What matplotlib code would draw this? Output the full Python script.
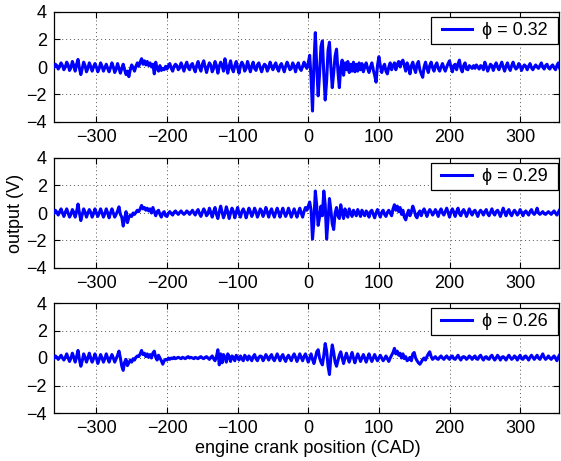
import numpy as np
import matplotlib
matplotlib.use("Agg")
import matplotlib.pyplot as plt
from matplotlib.patches import Rectangle

plt.rcParams['font.family'] = ['Liberation Sans', 'DejaVu Sans']

# crank angle sampling grid (CAD)
cad_start, cad_stop, cad_step = -360, 360, 2
cad = np.arange(cad_start, cad_stop + cad_step, cad_step)

phi_labels = ["ϕ = 0.32", "ϕ = 0.29", "ϕ = 0.26"]
x_ticks = [-300, -200, -100, 0, 100, 200, 300]
y_ticks = [-4, -2, 0, 2, 4]

out_032 = [
    # -360 .. -322
    0.0, 0.2, 0.1, -0.15, 0.05, 0.3, 0.1, -0.2, 0.0, 0.35, 0.15, -0.25, -0.05, 0.4, 0.1, -0.3, 0.2, 0.55, -0.1, -0.55,
    # -320 .. -282
    -0.1, 0.35, 0.1, -0.35, -0.1, 0.3, 0.05, -0.3, 0.0, 0.25, 0.0, -0.35, -0.1, 0.3, 0.05, -0.3, -0.05, 0.2, -0.1, -0.35,
    # -280 .. -242
    -0.05, 0.3, 0.0, -0.4, -0.15, 0.25, -0.1, -0.45, -0.1, 0.2, -0.2, -0.55, -0.3, -0.7, -0.2, 0.15, -0.05, -0.3, 0.05, 0.3,
    # -240 .. -202
    0.05, 0.35, 0.6, 0.2, 0.45, 0.15, 0.4, 0.1, 0.3, 0.0, 0.2, -0.5, 0.35, -0.1, -0.3, 0.1, -0.25, -0.1, -0.2, 0.05,
    # -200 .. -162
    -0.15, 0.1, 0.25, -0.1, -0.3, 0.05, 0.2, 0.1, -0.2, -0.05, 0.3, 0.0, -0.3, 0.1, 0.35, -0.05, -0.2, 0.15, 0.25, -0.1,
    # -160 .. -122
    -0.35, 0.1, 0.4, -0.05, -0.3, 0.2, 0.45, 0.0, -0.4, 0.0, 0.3, 0.15, -0.35, -0.1, 0.4, 0.1, -0.45, 0.05, 0.35, 0.1,
    # -120 .. -82
    -0.3, 0.6, 0.1, -0.45, 0.05, 0.45, -0.1, -0.35, 0.1, 0.4, -0.05, -0.45, 0.1, 0.35, 0.15, -0.3, -0.1, 0.4, 0.05, -0.35,
    # -80 .. -42
    0.05, 0.35, -0.1, -0.25, 0.15, 0.3, -0.05, -0.35, 0.0, 0.2, 0.1, -0.3, -0.05, 0.35, 0.05, -0.2, 0.1, 0.3, -0.1, -0.3,
    # -40 .. -2
    0.1, 0.25, -0.05, -0.35, 0.05, 0.35, 0.1, -0.2, -0.1, 0.3, 0.05, -0.35, 0.1, 0.3, -0.1, -0.25, 0.05, 0.35, 0.1, -0.1,
    # 0 .. 38
    0.3, 0.85, -0.8, -3.2, 0.2, 2.5, 0.0, -2.1, -0.5, 1.5, 1.9, -0.5, -2.4, -1.0, 1.2, 1.8, 0.0, -1.5, -0.4, 0.8,
    # 40 .. 78
    1.3, -0.3, -1.5, 0.0, 0.5, -0.6, 0.3, -0.2, 0.4, -0.4, 0.2, -0.3, 0.35, -0.35, 0.2, -0.3, 0.3, -0.2, 0.25, -0.35,
    # 80 .. 118
    0.0, 0.3, -0.1, -0.4, 0.0, 0.3, -0.2, -0.6, -1.1, 0.1, 0.75, 0.1, -0.4, 0.0, 0.2, -0.3, -0.5, 0.0, 0.3, -0.2,
    # 120 .. 158
    0.1, 0.3, -0.2, 0.2, 0.4, 0.0, 0.35, 0.5, 0.1, -0.3, 0.3, 0.0, -0.5, 0.1, 0.35, -0.1, -0.4, 0.2, 0.4, -0.2,
    # 160 .. 198
    -0.5, -0.75, 0.0, 0.35, -0.1, -0.4, 0.1, 0.35, -0.05, -0.3, 0.1, 0.3, -0.1, -0.3, 0.0, 0.25, -0.05, -0.3, 0.0, 0.25,
    # 200 .. 238
    0.45, 0.0, -0.35, 0.1, 0.2, -0.2, 0.2, 0.5, -0.1, -0.35, 0.1, 0.3, -0.15, -0.2, 0.1, 0.0, -0.1, 0.1, -0.1, 0.15,
    # 240 .. 278
    0.0, -0.15, 0.1, 0.05, -0.2, 0.35, 0.05, -0.3, -0.05, 0.2, 0.1, -0.25, 0.05, 0.3, 0.0, -0.2, 0.1, 0.35, 0.0, -0.3,
    # 280 .. 318
    0.05, 0.3, -0.05, -0.25, 0.1, 0.35, 0.05, -0.15, -0.05, 0.25, 0.1, -0.25, 0.0, 0.15, 0.05, -0.2, 0.05, 0.25, -0.05, -0.2,
    # 320 .. 358
    0.0, 0.15, 0.0, -0.1, 0.1, 0.3, 0.0, -0.15, 0.1, 0.2, -0.05, -0.15, 0.05, 0.15, -0.05, -0.2, 0.1, 0.3, -0.1, -0.35,
    # 360
    0.1,
]

out_029 = [
    # -360 .. -322
    0.0, 0.2, 0.05, -0.15, 0.1, 0.3, 0.0, -0.25, 0.05, 0.3, 0.0, -0.3, -0.1, 0.25, 0.05, -0.3, 0.1, 0.65, 0.0, -0.55,
    # -320 .. -282
    -0.1, 0.3, 0.05, -0.3, 0.0, 0.25, 0.05, -0.3, -0.05, 0.3, 0.0, -0.25, 0.0, 0.3, 0.0, -0.3, -0.05, 0.3, 0.0, -0.35,
    # -280 .. -242
    0.0, 0.3, 0.0, -0.3, -0.1, 0.15, 0.45, -0.1, -0.3, -0.95, -0.4, 0.1, -0.7, -0.3, -0.15, -0.25, 0.0, -0.1, 0.05, 0.2,
    # -240 .. -202
    0.1, 0.3, 0.55, 0.3, 0.4, 0.2, 0.35, 0.15, 0.3, 0.0, 0.4, 0.1, -0.2, 0.1, 0.2, -0.1, -0.3, 0.0, 0.1, -0.2,
    # -200 .. -162
    -0.25, 0.0, 0.1, -0.05, -0.15, 0.05, 0.15, 0.0, -0.1, 0.05, 0.15, 0.0, -0.1, 0.0, 0.15, 0.05, -0.1, 0.05, 0.2, 0.0,
    # -160 .. -122
    -0.15, 0.1, 0.25, -0.05, -0.25, 0.05, 0.3, 0.1, -0.2, -0.05, 0.35, 0.05, -0.3, 0.1, 0.4, -0.1, -0.4, 0.1, 0.5, 0.05,
    # -120 .. -82
    -0.35, -0.05, 0.45, 0.1, -0.4, 0.0, 0.35, 0.1, -0.35, 0.05, 0.4, -0.05, -0.3, 0.1, 0.3, 0.05, -0.35, 0.0, 0.35, 0.1,
    # -80 .. -42
    -0.25, 0.0, 0.35, 0.1, -0.3, -0.05, 0.3, 0.15, -0.25, 0.0, 0.4, 0.05, -0.3, 0.1, 0.3, -0.05, -0.3, 0.05, 0.35, 0.05,
    # -40 .. -2
    -0.3, 0.05, 0.35, 0.0, -0.25, 0.0, 0.35, 0.05, -0.3, 0.0, 0.3, 0.0, -0.3, 0.05, 0.35, 0.0, -0.3, 0.1, 0.4, 0.2,
    # 0 .. 38
    0.5, 0.8, 0.2, -1.9, -0.6, 1.6, 0.5, -0.9, -0.3, 0.5, -0.2, 1.6, 0.6, -1.9, -0.5, 1.05, 0.2, -0.8, -1.2, 0.0,
    # 40 .. 78
    0.4, -0.2, -0.4, 0.6, 0.0, -0.4, 0.3, -0.1, -0.3, 0.3, 0.0, -0.25, 0.2, 0.0, -0.2, 0.25, 0.0, -0.25, 0.2, -0.05,
    # 80 .. 118
    -0.2, 0.15, 0.0, -0.3, 0.1, 0.2, -0.1, -0.35, 0.0, 0.25, -0.05, -0.3, 0.05, 0.2, -0.1, -0.25, 0.05, 0.2, 0.0, -0.2,
    # 120 .. 158
    0.3, 0.6, 0.2, 0.5, 0.1, 0.4, -0.1, 0.2, -0.3, -0.5, -0.1, 0.2, -0.2, 0.1, 0.5, 0.2, -0.2, -0.35, 0.0, 0.15,
    # 160 .. 198
    -0.2, 0.1, 0.3, 0.05, -0.25, 0.05, 0.25, 0.1, -0.15, 0.0, 0.25, 0.05, -0.25, 0.1, 0.3, 0.0, -0.15, 0.1, 0.35, 0.05,
    # 200 .. 238
    -0.3, 0.05, 0.3, 0.05, -0.25, 0.1, 0.35, -0.05, -0.2, 0.1, 0.25, 0.05, -0.25, 0.0, 0.3, 0.05, -0.15, 0.1, 0.2, 0.0,
    # 240 .. 278
    -0.25, 0.05, 0.2, 0.05, -0.15, 0.1, 0.25, -0.05, -0.2, 0.05, 0.3, 0.0, -0.15, 0.1, 0.2, 0.0, -0.25, 0.05, 0.35, 0.05,
    # 280 .. 318
    -0.2, 0.1, 0.25, -0.05, -0.2, 0.05, 0.2, 0.05, -0.15, 0.0, 0.25, 0.05, -0.2, 0.05, 0.15, 0.0, -0.15, 0.1, 0.25, 0.0,
    # 320 .. 358
    -0.1, 0.05, 0.35, 0.0, -0.1, 0.0, 0.1, -0.05, -0.1, 0.0, 0.1, 0.0, -0.1, 0.05, 0.15, 0.0, -0.15, 0.05, 0.25, -0.1,
    # 360
    -0.2,
]

out_026 = [
    # -360 .. -322
    0.0, 0.15, 0.05, -0.1, 0.05, 0.2, 0.0, -0.15, 0.05, 0.3, 0.0, -0.25, 0.0, 0.35, 0.05, -0.3, 0.1, 0.55, -0.1, -0.6,
    # -320 .. -282
    -0.2, 0.3, 0.05, -0.3, 0.0, 0.35, 0.0, -0.3, -0.05, 0.3, 0.0, -0.4, -0.1, 0.25, 0.0, -0.3, -0.05, 0.3, 0.0, -0.3,
    # -280 .. -242
    0.0, 0.25, 0.0, -0.3, -0.05, 0.2, 0.5, 0.0, -0.6, -0.9, -0.3, -0.1, -0.55, -0.35, -0.15, -0.3, -0.05, -0.15, 0.05, 0.15,
    # -240 .. -202
    0.1, 0.3, 0.55, 0.25, 0.35, 0.1, 0.3, 0.05, 0.25, 0.0, 0.35, 0.5, 0.05, -0.15, 0.2, 0.0, -0.2, -0.45, -0.2, -0.1,
    # -200 .. -162
    -0.15, 0.0, -0.1, 0.0, -0.05, 0.05, -0.05, 0.0, 0.05, 0.0, -0.05, 0.05, 0.0, -0.05, 0.05, 0.1, 0.0, 0.05, 0.0, -0.05,
    # -160 .. -122
    0.05, 0.0, -0.05, 0.05, 0.1, 0.0, -0.05, 0.05, 0.1, 0.0, -0.1, 0.05, 0.15, -0.05, -0.2, 0.1, 0.6, -0.5, 0.3, -0.35,
    # -120 .. -82
    0.25, 0.05, -0.3, 0.3, 0.1, -0.25, 0.15, 0.05, -0.2, 0.2, 0.05, -0.15, 0.15, -0.05, -0.2, 0.2, 0.05, -0.15, 0.15, 0.0,
    # -80 .. -42
    -0.2, 0.1, 0.25, -0.05, -0.2, 0.05, 0.15, 0.1, -0.2, 0.0, 0.25, 0.05, -0.15, 0.1, 0.25, -0.05, -0.2, 0.05, 0.3, 0.05,
    # -40 .. -2
    -0.2, 0.1, 0.25, -0.05, -0.25, 0.05, 0.2, 0.0, -0.2, 0.1, 0.3, 0.05, -0.25, 0.0, 0.3, 0.05, -0.2, 0.1, 0.3, 0.0,
    # 0 .. 38
    -0.3, 0.0, 0.3, -0.1, -0.4, 0.0, 0.45, 0.6, 0.0, -0.3, -0.5, 0.2, 1.05, 0.5, -0.6, -1.2, 0.1, 0.95, 0.4, -0.3,
    # 40 .. 78
    -0.6, -0.2, 0.2, 0.45, 0.0, -0.4, 0.0, 0.35, 0.0, -0.3, 0.05, 0.4, 0.0, -0.35, 0.0, 0.3, 0.05, -0.25, 0.0, 0.25,
    # 80 .. 118
    0.0, -0.3, 0.0, 0.3, 0.0, -0.25, 0.0, 0.25, 0.0, -0.2, 0.0, 0.2, 0.0, -0.2, -0.05, 0.15, -0.05, -0.25, 0.0, 0.2,
    # 120 .. 158
    0.4, 0.7, 0.3, 0.5, 0.2, 0.35, 0.0, 0.3, -0.05, 0.1, -0.2, -0.1, 0.05, -0.2, 0.3, 0.4, 0.0, -0.2, -0.35, -0.45,
    # 160 .. 198
    -0.3, -0.1, 0.0, -0.15, 0.1, 0.3, 0.45, 0.1, -0.1, 0.0, 0.1, -0.05, -0.1, 0.05, 0.15, 0.0, -0.1, 0.05, 0.15, 0.0,
    # 200 .. 238
    -0.1, 0.1, 0.15, -0.05, -0.1, 0.05, 0.2, 0.0, -0.15, 0.05, 0.1, 0.05, -0.1, 0.0, 0.15, 0.05, -0.1, 0.05, 0.15, -0.05,
    # 240 .. 278
    -0.1, 0.1, 0.2, 0.0, -0.15, 0.05, 0.1, -0.05, -0.1, 0.1, 0.2, 0.0, -0.15, 0.0, 0.2, 0.05, -0.15, 0.05, 0.1, 0.0,
    # 280 .. 318
    -0.15, 0.05, 0.2, 0.05, -0.1, 0.0, 0.15, 0.05, -0.15, 0.05, 0.2, -0.05, -0.1, 0.1, 0.15, 0.0, -0.15, 0.05, 0.2, 0.05,
    # 320 .. 358
    -0.1, 0.05, 0.2, 0.0, -0.1, 0.1, 0.3, 0.05, -0.1, 0.0, 0.15, 0.0, -0.1, 0.05, 0.15, 0.0, -0.2, 0.05, 0.25, 0.0,
    # 360
    0.15,
]

series = [out_032, out_029, out_026]

W, H = 561, 461
fig = plt.figure(figsize=(W / 100, H / 100), dpi=100)
left_px, right_px = 54, 559
panel_tops = [12, 158, 303]
panel_h = 110
fs = 13

# legend box in pixels relative to each panel (left, right, top offset, bottom offset)
leg_l, leg_r, leg_t, leg_b = 431, 558, 5, 32
aw = right_px - left_px

for i, (vals, lab) in enumerate(zip(series, phi_labels)):
    top = panel_tops[i]
    ax = fig.add_axes([left_px / W, 1 - (top + panel_h) / H,
                       aw / W, panel_h / H])
    ax.plot(cad, vals, color=(0, 0, 1), lw=2.2, label=lab, zorder=3)
    ax.set_xlim(-360, 355)
    ax.set_ylim(-4, 4)
    ax.set_xticks(x_ticks)
    ax.set_yticks(y_ticks)
    ax.grid(True, linestyle=(0, (1, 3)), color='#555555', lw=0.7)
    ax.tick_params(direction='in', length=4, labelsize=fs, top=True, right=True,
                   width=0.8, pad=5)
    for s in ax.spines.values():
        s.set_linewidth(0.9)
    # legend frame
    x0 = (leg_l - left_px) / aw
    x1 = (leg_r - left_px) / aw
    y1 = 1 - leg_t / panel_h
    y0 = 1 - leg_b / panel_h
    ax.add_patch(Rectangle((x0, y0), x1 - x0, y1 - y0, transform=ax.transAxes,
                           facecolor='white', edgecolor='black', lw=0.9, zorder=4))
    leg = ax.legend(loc='center', bbox_to_anchor=((x0 + x1) / 2, (y0 + y1) / 2),
                    borderaxespad=0, fontsize=fs, handlelength=1.67,
                    handletextpad=0.56, borderpad=0.0, frameon=False)
    leg.set_zorder(5)

fig.text(15 / W, 1 - 213 / H, "output (V)", rotation=90, fontsize=fs,
         ha='center', va='center')
fig.text(308 / W, 1 - 448 / H, "engine crank position (CAD)", fontsize=fs,
         ha='center', va='center')

fig.savefig("out.png", dpi=100)
